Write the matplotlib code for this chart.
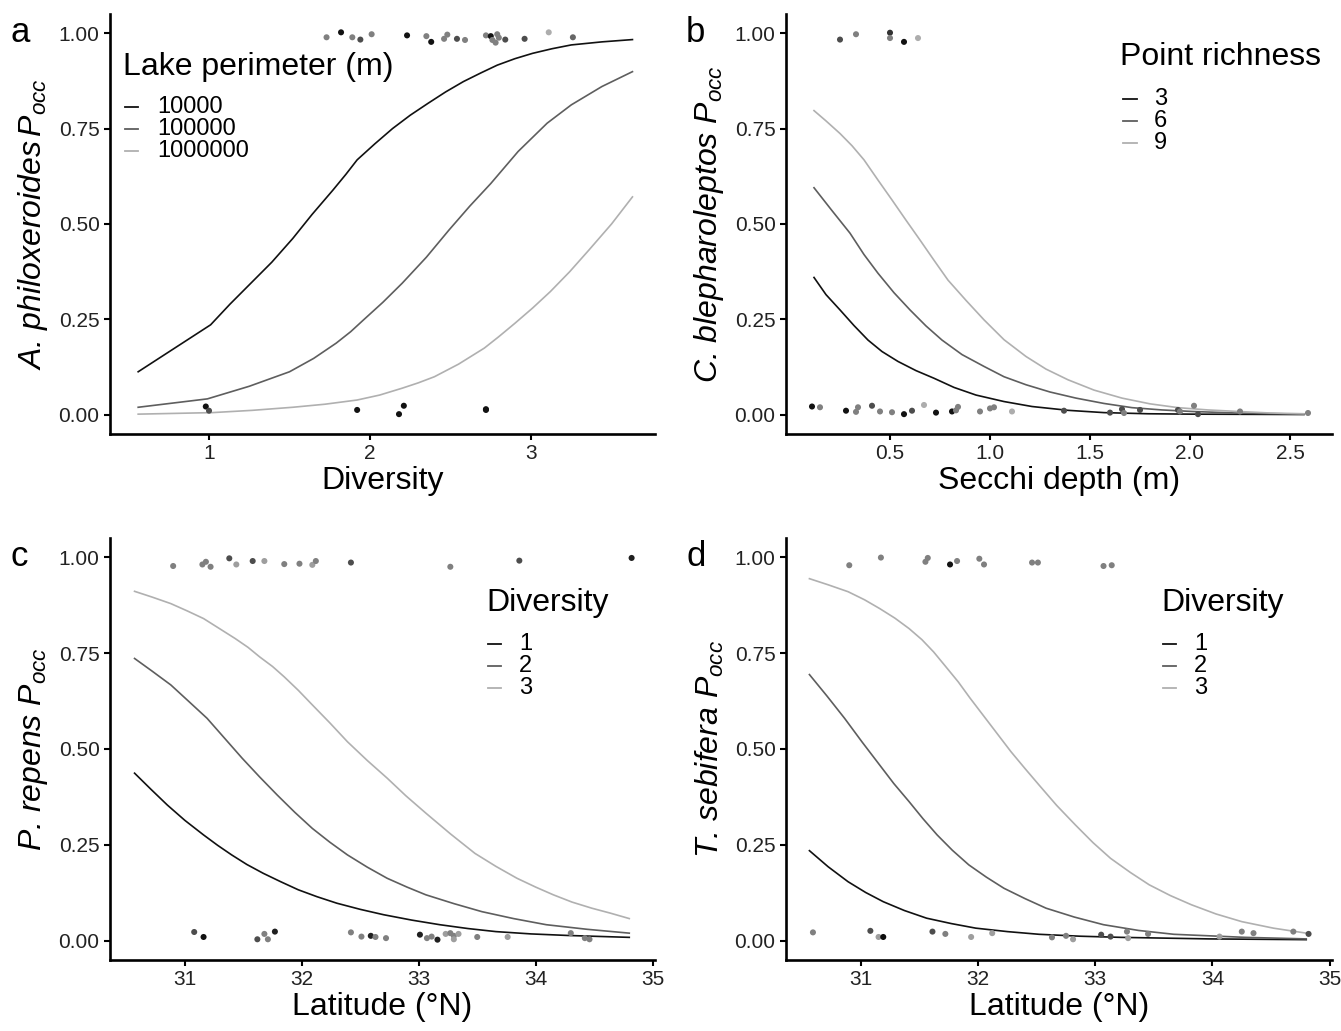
import numpy as np
import matplotlib.pyplot as plt
from matplotlib.lines import Line2D

plt.rcParams['font.family'] = ['Liberation Sans', 'DejaVu Sans']
plt.rcParams['mathtext.fontset'] = 'custom'
plt.rcParams['mathtext.rm'] = 'Liberation Sans'
plt.rcParams['mathtext.it'] = 'Liberation Sans:italic'

#  a : A. philoxeroides vs diversity, by lake perimeter
a_div_1e4 = [0.56, 1.01, 1.13, 1.26, 1.39, 1.52, 1.64, 1.77, 1.85, 1.92, 2.03, 2.14, 2.25, 2.36,
             2.47, 2.58, 2.69, 2.79, 2.90, 3.01, 3.13, 3.25, 3.44, 3.63]
a_occ_1e4 = [0.113, 0.236, 0.290, 0.345, 0.400, 0.462, 0.525, 0.589, 0.630, 0.668, 0.710, 0.750,
             0.785, 0.816, 0.846, 0.873, 0.896, 0.916, 0.933, 0.947, 0.959, 0.969, 0.977, 0.983]
a_div_1e5 = [0.56, 0.99, 1.25, 1.50, 1.65, 1.79, 1.88, 1.96, 2.08, 2.20, 2.35, 2.49, 2.62, 2.75,
             2.92, 3.10, 3.25, 3.44, 3.63]
a_occ_1e5 = [0.020, 0.042, 0.075, 0.113, 0.148, 0.188, 0.218, 0.249, 0.295, 0.345, 0.413, 0.484,
             0.547, 0.606, 0.690, 0.764, 0.812, 0.860, 0.899]
a_div_1e6 = [0.56, 1.02, 1.27, 1.52, 1.72, 1.92, 2.06, 2.20, 2.30, 2.40, 2.55, 2.71, 2.80, 2.90,
             3.01, 3.12, 3.24, 3.36, 3.50, 3.63]
a_occ_1e6 = [0.002, 0.006, 0.012, 0.020, 0.028, 0.039, 0.052, 0.070, 0.084, 0.100, 0.133, 0.175,
             0.205, 0.240, 0.280, 0.323, 0.375, 0.432, 0.500, 0.571]
a_pt_x = [1.73, 1.82, 1.89, 1.94, 2.01, 2.23, 2.35, 2.38, 2.46, 2.48, 2.54, 2.59, 2.72, 2.75,
          2.76, 2.78, 2.79, 2.80, 2.84, 2.96, 3.11, 3.26,
          0.98, 1.00, 1.92, 2.18, 2.21, 2.72, 2.72]
a_pt_y = [0.989, 1.002, 0.989, 0.983, 0.997, 0.994, 0.992, 0.977, 0.985, 0.996, 0.985, 0.982,
          0.994, 0.992, 0.982, 0.975, 0.997, 0.988, 0.983, 0.985, 1.002, 0.989,
          0.022, 0.011, 0.013, 0.002, 0.024, 0.015, 0.013]
a_pt_grey = [0.5, 0.07, 0.5, 0.3, 0.5, 0.07, 0.5, 0.07, 0.5, 0.5, 0.3, 0.5, 0.5, 0.07,
             0.5, 0.5, 0.5, 0.5, 0.3, 0.3, 0.68, 0.4,
             0.07, 0.3, 0.07, 0.07, 0.07, 0.07, 0.07]

#  b : C. blepharoleptos vs Secchi depth, by point richness
b_sec_3 = [0.12, 0.18, 0.25, 0.32, 0.39, 0.46, 0.54, 0.63, 0.72, 0.82, 0.93, 1.07, 1.21, 1.39,
           1.57, 1.79, 2.01, 2.57]
b_occ_3 = [0.360, 0.315, 0.275, 0.234, 0.196, 0.166, 0.140, 0.116, 0.096, 0.072, 0.052, 0.035,
           0.022, 0.012, 0.006, 0.003, 0.002, 0.001]
b_sec_6 = [0.12, 0.21, 0.30, 0.37, 0.44, 0.52, 0.60, 0.68, 0.76, 0.86, 0.97, 1.07, 1.18, 1.30,
           1.43, 1.57, 1.71, 1.86, 2.01, 2.23, 2.45, 2.57]
b_occ_6 = [0.595, 0.535, 0.476, 0.420, 0.371, 0.320, 0.275, 0.233, 0.196, 0.158, 0.127, 0.100,
           0.079, 0.060, 0.044, 0.030, 0.019, 0.013, 0.009, 0.005, 0.003, 0.002]
b_sec_9 = [0.12, 0.18, 0.25, 0.31, 0.37, 0.44, 0.51, 0.58, 0.65, 0.72, 0.79, 0.88, 0.97, 1.07,
           1.18, 1.28, 1.39, 1.52, 1.66, 1.80, 1.94, 2.09, 2.24, 2.40, 2.57]
b_occ_9 = [0.797, 0.770, 0.737, 0.705, 0.668, 0.615, 0.563, 0.510, 0.458, 0.405, 0.353, 0.300,
           0.249, 0.197, 0.153, 0.120, 0.092, 0.065, 0.044, 0.029, 0.019, 0.013, 0.009, 0.005,
           0.003]
b_pt_x = [0.25, 0.33, 0.50, 0.50, 0.57, 0.64,
          0.11, 0.15, 0.28, 0.33, 0.34, 0.41, 0.45, 0.51, 0.57, 0.61, 0.67, 0.73, 0.81, 0.83,
          0.84, 0.95, 1.00, 1.02, 1.11, 1.37, 1.60, 1.66, 1.67, 1.75, 1.94, 1.95, 2.02, 2.04,
          2.25, 2.59]
b_pt_y = [0.983, 0.997, 1.001, 0.987, 0.977, 0.987,
          0.022, 0.020, 0.011, 0.008, 0.020, 0.024, 0.009, 0.007, 0.002, 0.011, 0.026, 0.006,
          0.009, 0.012, 0.021, 0.009, 0.017, 0.020, 0.009, 0.011, 0.006, 0.015, 0.005, 0.013,
          0.013, 0.009, 0.024, 0.002, 0.009, 0.005]
b_pt_grey = [0.3, 0.5, 0.2, 0.5, 0.07, 0.68,
             0.07, 0.5, 0.07, 0.5, 0.5, 0.3, 0.5, 0.5, 0.07, 0.3, 0.68, 0.07, 0.07, 0.5,
             0.5, 0.5, 0.5, 0.5, 0.68, 0.3, 0.3, 0.3, 0.5, 0.3, 0.3, 0.5, 0.5, 0.3,
             0.5, 0.5]

#  c : P. repens vs latitude, by diversity
c_lat_1 = [30.57, 30.71, 30.85, 31.00, 31.16, 31.28, 31.40, 31.53, 31.67, 31.82, 31.97, 32.13,
           32.30, 32.50, 32.70, 32.94, 33.18, 33.42, 33.66, 33.96, 34.27, 34.80]
c_occ_1 = [0.437, 0.395, 0.354, 0.314, 0.276, 0.249, 0.224, 0.199, 0.176, 0.154, 0.133, 0.115,
           0.098, 0.082, 0.068, 0.054, 0.042, 0.032, 0.024, 0.018, 0.014, 0.009]
c_lat_2 = [30.57, 30.72, 30.88, 31.03, 31.19, 31.34, 31.49, 31.64, 31.79, 31.94, 32.09, 32.24,
           32.39, 32.56, 32.73, 32.90, 33.06, 33.30, 33.54, 33.81, 34.09, 34.44, 34.80]
c_occ_2 = [0.736, 0.703, 0.667, 0.625, 0.580, 0.528, 0.476, 0.427, 0.380, 0.335, 0.293, 0.257,
           0.224, 0.192, 0.163, 0.140, 0.120, 0.097, 0.076, 0.058, 0.042, 0.030, 0.020]
c_lat_3 = [30.57, 30.72, 30.88, 31.02, 31.16, 31.29, 31.43, 31.54, 31.64, 31.75, 31.85, 31.97,
           32.09, 32.24, 32.39, 32.56, 32.73, 32.89, 33.06, 33.27, 33.48, 33.66, 33.84, 34.00,
           34.15, 34.31, 34.48, 34.64, 34.80]
c_occ_3 = [0.911, 0.896, 0.879, 0.860, 0.840, 0.815, 0.788, 0.765, 0.740, 0.715, 0.688, 0.653,
           0.615, 0.568, 0.519, 0.470, 0.424, 0.378, 0.333, 0.279, 0.228, 0.194, 0.163, 0.140,
           0.120, 0.101, 0.085, 0.072, 0.058]
c_pt_x = [30.90, 31.15, 31.18, 31.22, 31.38, 31.44, 31.58, 31.68, 31.85, 31.98, 32.09, 32.12,
          32.42, 33.27, 33.86, 34.82,
          31.08, 31.16, 31.62, 31.68, 31.71, 31.77, 32.42, 32.51, 32.59, 32.63, 32.72, 33.01,
          33.07, 33.11, 33.16, 33.23, 33.27, 33.30, 33.30, 33.34, 33.50, 33.76, 34.30, 34.42,
          34.46]
c_pt_y = [0.977, 0.981, 0.988, 0.975, 0.997, 0.981, 0.990, 0.990, 0.982, 0.983, 0.980, 0.990,
          0.986, 0.975, 0.991, 0.998,
          0.023, 0.010, 0.004, 0.018, 0.004, 0.024, 0.022, 0.011, 0.013, 0.010, 0.007, 0.016,
          0.007, 0.011, 0.003, 0.018, 0.020, 0.013, 0.004, 0.018, 0.010, 0.010, 0.020, 0.007,
          0.004]
c_pt_grey = [0.5, 0.5, 0.5, 0.5, 0.3, 0.62, 0.3, 0.62, 0.5, 0.5, 0.62, 0.5,
             0.3, 0.5, 0.3, 0.12,
             0.3, 0.07, 0.3, 0.5, 0.5, 0.12, 0.5, 0.5, 0.12, 0.5, 0.5, 0.12,
             0.5, 0.5, 0.12, 0.62, 0.5, 0.5, 0.62, 0.62, 0.5, 0.62, 0.5, 0.5,
             0.5]

#  d : T. sebifera vs latitude, by diversity
d_lat_1 = [30.56, 30.72, 30.89, 31.04, 31.19, 31.37, 31.56, 31.77, 31.98, 32.25, 32.52, 32.87,
           33.22, 33.97, 34.80]
d_occ_1 = [0.235, 0.193, 0.154, 0.126, 0.102, 0.079, 0.059, 0.045, 0.033, 0.024, 0.017, 0.012,
           0.009, 0.005, 0.003]
d_lat_2 = [30.56, 30.71, 30.86, 31.01, 31.16, 31.28, 31.41, 31.53, 31.65, 31.78, 31.92, 32.07,
           32.22, 32.40, 32.58, 32.82, 33.07, 33.37, 33.67, 34.28, 34.80]
d_occ_2 = [0.694, 0.638, 0.580, 0.518, 0.458, 0.410, 0.363, 0.318, 0.276, 0.236, 0.198, 0.166,
           0.137, 0.110, 0.085, 0.062, 0.042, 0.027, 0.017, 0.009, 0.005]
d_lat_3 = [30.56, 30.72, 30.89, 31.03, 31.16, 31.29, 31.41, 31.52, 31.62, 31.72, 31.83, 31.93,
           32.04, 32.16, 32.28, 32.40, 32.52, 32.67, 32.83, 32.98, 33.13, 33.30, 33.46, 33.64,
           33.82, 34.03, 34.25, 34.52, 34.80]
d_occ_3 = [0.944, 0.928, 0.910, 0.889, 0.866, 0.841, 0.814, 0.785, 0.753, 0.716, 0.675, 0.633,
           0.589, 0.541, 0.493, 0.449, 0.406, 0.353, 0.302, 0.256, 0.215, 0.178, 0.146, 0.118,
           0.094, 0.070, 0.050, 0.033, 0.020]
d_pt_x = [30.90, 31.17, 31.55, 31.57, 31.76, 31.82, 32.01, 32.05, 32.46, 32.51, 33.07, 33.14,
          30.59, 31.08, 31.15, 31.19, 31.61, 31.72, 31.94, 32.12, 32.63, 32.75, 32.81, 33.05,
          33.13, 33.27, 33.28, 33.45, 34.06, 34.25, 34.35, 34.69, 34.82]
d_pt_y = [0.979, 0.999, 0.988, 0.998, 0.981, 0.990, 0.996, 0.981, 0.986, 0.986, 0.977, 0.979,
          0.022, 0.026, 0.010, 0.010, 0.024, 0.018, 0.010, 0.020, 0.009, 0.013, 0.004, 0.016,
          0.011, 0.024, 0.007, 0.018, 0.011, 0.024, 0.020, 0.024, 0.018]
d_pt_grey = [0.5, 0.5, 0.5, 0.5, 0.07, 0.5, 0.5, 0.5, 0.5, 0.5, 0.5, 0.5,
             0.5, 0.3, 0.62, 0.05, 0.3, 0.5, 0.62, 0.62, 0.5, 0.5, 0.62, 0.3,
             0.3, 0.5, 0.62, 0.5, 0.62, 0.5, 0.5, 0.5, 0.3]

line_cols = ['#111111', '#5e5e5e', '#b0b0b0']

W, H = 1341, 1031
fig = plt.figure(figsize=(W/100, H/100), dpi=100)

def box(l, t, r, b):
    return [l/W, 1 - b/H, (r - l)/W, (b - t)/H]

def setup(ax, xlim, xticks, xtl, xlabel, ylabel):
    ax.set_xlim(xlim)
    ax.set_ylim(-0.05, 1.05)
    ax.spines['top'].set_visible(False)
    ax.spines['right'].set_visible(False)
    ax.spines['left'].set_linewidth(1.9)
    ax.spines['bottom'].set_linewidth(1.9)
    ax.set_xticks(xticks)
    ax.set_xticklabels(xtl)
    ax.set_yticks([0, 0.25, 0.5, 0.75, 1.0])
    ax.set_yticklabels(['0.00', '0.25', '0.50', '0.75', '1.00'])
    ax.tick_params(labelsize=15, labelcolor='#222222', length=4.5, width=1.5, pad=3)
    ax.set_xlabel(xlabel, fontsize=23, labelpad=2)
    ax.set_ylabel(ylabel, fontsize=23, labelpad=6, style='italic')

def points(ax, x, y, g):
    ax.scatter(x, y, s=19, c=[str(v) for v in g], linewidths=0, zorder=3)

def legend(title, labels, tx, ty, ys, kx0, kx1, lx):
    fig.text(tx/W, 1 - ty/H, title, fontsize=23, va='center', ha='left')
    for lab, col, y in zip(labels, line_cols, ys):
        fig.add_artist(Line2D([kx0/W, kx1/W], [1 - y/H, 1 - y/H], color=col, lw=1.3))
        fig.text(lx/W, 1 - y/H, lab, fontsize=17, va='center', ha='left')

# a
ax = fig.add_axes(box(110, 14, 655, 434))
ax.plot(a_div_1e4, a_occ_1e4, color=line_cols[0], lw=1.2)
ax.plot(a_div_1e5, a_occ_1e5, color=line_cols[1], lw=1.2)
ax.plot(a_div_1e6, a_occ_1e6, color=line_cols[2], lw=1.2)
points(ax, a_pt_x, a_pt_y, a_pt_grey)
setup(ax, (0.385, 3.77), [1, 2, 3], ['1', '2', '3'], 'Diversity',
      r'A. philoxeroides$\,P_{occ}$')
legend('Lake perimeter (m)', ['10000', '100000', '1000000'], 123, 67, [107, 129, 151], 125, 138, 157)

# b
ax = fig.add_axes(box(786, 14, 1332, 434))
ax.plot(b_sec_3, b_occ_3, color=line_cols[0], lw=1.2)
ax.plot(b_sec_6, b_occ_6, color=line_cols[1], lw=1.2)
ax.plot(b_sec_9, b_occ_9, color=line_cols[2], lw=1.2)
points(ax, b_pt_x, b_pt_y, b_pt_grey)
setup(ax, (-0.02, 2.71), [0.5, 1.0, 1.5, 2.0, 2.5], ['0.5', '1.0', '1.5', '2.0', '2.5'],
      'Secchi depth (m)', r'C. blepharoleptos $P_{occ}$')
legend('Point richness', ['3', '6', '9'], 1120, 57, [99, 121, 143], 1123, 1137, 1154)

# c
ax = fig.add_axes(box(110, 538, 655, 960))
ax.plot(c_lat_1, c_occ_1, color=line_cols[0], lw=1.2)
ax.plot(c_lat_2, c_occ_2, color=line_cols[1], lw=1.2)
ax.plot(c_lat_3, c_occ_3, color=line_cols[2], lw=1.2)
points(ax, c_pt_x, c_pt_y, c_pt_grey)
setup(ax, (30.36, 35.02), [31, 32, 33, 34, 35], ['31', '32', '33', '34', '35'],
      'Latitude (°N)', r'P. repens $P_{occ}$')
legend('Diversity', ['1', '2', '3'], 486, 603, [644, 666, 688], 488, 501, 519)

# d
ax = fig.add_axes(box(786, 538, 1332, 960))
ax.plot(d_lat_1, d_occ_1, color=line_cols[0], lw=1.2)
ax.plot(d_lat_2, d_occ_2, color=line_cols[1], lw=1.2)
ax.plot(d_lat_3, d_occ_3, color=line_cols[2], lw=1.2)
points(ax, d_pt_x, d_pt_y, d_pt_grey)
setup(ax, (30.36, 35.02), [31, 32, 33, 34, 35], ['31', '32', '33', '34', '35'],
      'Latitude (°N)', r'T. sebifera $P_{occ}$')
legend('Diversity', ['1', '2', '3'], 1161, 603, [644, 666, 688], 1163, 1176, 1194)

for lab, x, y in [('a', 10, 33), ('b', 686, 33), ('c', 10, 557), ('d', 686, 557)]:
    fig.text(x/W, 1 - y/H, lab, fontsize=25, va='center', ha='left')

fig.savefig('out.png', dpi=100)
plt.close()
